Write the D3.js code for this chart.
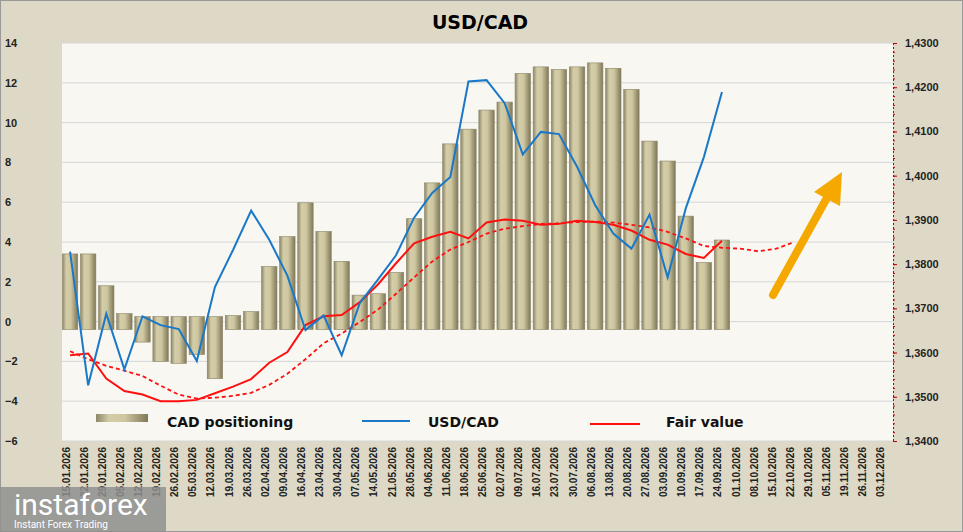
<!DOCTYPE html>
<html><head><meta charset="utf-8">
<script src="https://cdn.jsdelivr.net/npm/d3@7"></script>
<style>body{margin:0;background:#ddd9c6;font-family:Verdana,"DejaVu Sans",sans-serif}</style>
</head><body><div id="chart-area"></div>
<script>
var dates = ["15.01.2026","22.01.2026","29.01.2026","05.02.2026","12.02.2026","19.02.2026","26.02.2026","05.03.2026","12.03.2026","19.03.2026","26.03.2026","02.04.2026","09.04.2026","16.04.2026","23.04.2026","30.04.2026","07.05.2026","14.05.2026","21.05.2026","28.05.2026","04.06.2026","11.06.2026","18.06.2026","25.06.2026","02.07.2026","09.07.2026","16.07.2026","23.07.2026","30.07.2026","06.08.2026","13.08.2026","20.08.2026","27.08.2026","03.09.2026","10.09.2026","17.09.2026","24.09.2026","01.10.2026","08.10.2026","15.10.2026","22.10.2026","29.10.2026","05.11.2026","19.11.2026","26.11.2026","03.12.2026"];
var cadPositioning = [3.4,3.4,1.8,0.4,-1.03,-2.0,-2.1,-1.65,-2.87,0.3,0.5,2.77,4.27,5.97,4.53,3.03,1.33,1.4,2.47,5.17,6.97,8.93,9.67,10.63,11.03,12.47,12.8,12.67,12.8,13.0,12.73,11.67,9.07,8.07,5.3,2.97,4.1];
var usdcad = [1.3828,1.3526,1.3688,1.3562,1.3682,1.3662,1.3653,1.3581,1.3748,1.3832,1.3921,1.3855,1.3774,1.3651,1.3684,1.3594,1.3712,1.3765,1.3820,1.3905,1.3961,1.3997,1.4213,1.4216,1.4164,1.4048,1.4099,1.4094,1.4020,1.3933,1.3869,1.3835,1.3912,1.3770,1.3926,1.4042,1.4189];
var fairValue = [1.3594,1.3598,1.3541,1.3513,1.3505,1.3490,1.3490,1.3493,1.3508,1.3523,1.3540,1.3577,1.3601,1.3662,1.3682,1.3685,1.3714,1.3754,1.3802,1.3847,1.3862,1.3873,1.3858,1.3894,1.3901,1.3898,1.3889,1.3891,1.3898,1.3895,1.3889,1.3876,1.3855,1.3844,1.3823,1.3814,1.3853];
var fairTrend = [1.3603,1.3585,1.3570,1.3559,1.3547,1.3525,1.3505,1.3496,1.3498,1.3502,1.3509,1.3527,1.3552,1.3585,1.3621,1.3643,1.3669,1.3697,1.3733,1.3770,1.3806,1.3833,1.3850,1.3869,1.3880,1.3886,1.3891,1.3892,1.3895,1.3896,1.3894,1.3889,1.3883,1.3873,1.3858,1.3841,1.3837,1.3835,1.3829,1.3835,1.3850];
var leftTicks = [14,12,10,8,6,4,2,0,-2,-4,-6];
var rightTicks = [1.43,1.42,1.41,1.40,1.39,1.38,1.37,1.36,1.35,1.34];

var W = 963, H = 532, L = 62, R = 893, T = 43, B = 441;
var svg = d3.select("#chart-area").append("svg").attr("width", W).attr("height", H);
svg.append("rect").attr("x",0.5).attr("y",0.5).attr("width",W-1).attr("height",H-1).attr("fill","#ddd9c6").attr("stroke","#999");
svg.append("rect").attr("x",L).attr("y",T).attr("width",R-L).attr("height",B-T).attr("fill","#f8f7f2");
svg.append("text").attr("x",480).attr("y",29).attr("text-anchor","middle").attr("font-size",19).attr("font-weight","bold").text("USD/CAD");

var x = d3.scaleBand().domain(dates).range([L,R]).paddingInner(0.15).paddingOuter(0.02);
var y = d3.scaleLinear().domain([-6,14]).range([B,T]);
var yR = d3.scaleLinear().domain([1.34,1.43]).range([B,T]);
var cx = function(i){ return x(dates[i]) + x.bandwidth()/2; };

// grid
svg.selectAll(".grid").data(leftTicks).enter().append("line")
  .attr("x1",L).attr("x2",R).attr("y1",d=>y(d)).attr("y2",d=>y(d)).attr("stroke","#d6d6d6");

// axes
var la = svg.append("g").attr("transform","translate("+L+",0)")
  .call(d3.axisLeft(y).tickValues(leftTicks).tickSize(0).tickPadding(14));
la.select(".domain").remove();
la.selectAll("text").attr("font-size",11).attr("font-weight","bold").attr("fill","#222").attr("text-anchor","start").attr("x",-57);
var ra = svg.append("g").attr("transform","translate("+R+",0)")
  .call(d3.axisRight(yR).tickValues(rightTicks).tickSize(4).tickFormat(d=>d3.format(".4f")(d).replace(".",",")));
ra.select(".domain").attr("stroke","#c00000").attr("stroke-dasharray","2,2");
ra.selectAll("line").attr("stroke","#c00000");
ra.selectAll("text").attr("font-size",11).attr("font-weight","bold").attr("fill","#222").attr("x",12);
var ra2 = svg.append("g").attr("transform","translate("+R+",0)")
  .call(d3.axisRight(yR).ticks(45).tickSize(2).tickFormat(""));
ra2.select(".domain").remove();
ra2.selectAll("line").attr("stroke","#c00000");

var xa = svg.append("g").attr("transform","translate(0,"+B+")").call(d3.axisBottom(x).tickSize(0));
xa.select(".domain").remove();
xa.selectAll("text").attr("font-size",10).attr("font-weight","bold").attr("fill","#222")
  .attr("transform","rotate(-90)").attr("text-anchor","end").attr("x",-6).attr("y",-4).attr("dy","0.35em");

// bars
var grad = svg.append("defs").append("linearGradient").attr("id","bg");
[["0%","#8d8668"],["25%","#d4cda8"],["55%","#cfc7a0"],["100%","#7f7858"]].forEach(s=>grad.append("stop").attr("offset",s[0]).attr("stop-color",s[1]));
svg.selectAll(".bar").data(cadPositioning).enter().append("rect")
  .attr("x",(d,i)=>x(dates[i]))
  .attr("width",x.bandwidth())
  .attr("y",d=>d>0 ? y(d) : y(0.25))
  .attr("height",d=>d>0 ? y(-0.4)-y(d) : y(d)-y(0.25))
  .attr("fill","url(#bg)").attr("stroke","#8a8466").attr("stroke-width",0.6);

var line = d3.line().x((d,i)=>cx(i)).y(d=>yR(d));
svg.append("path").attr("d",line(fairTrend)).attr("fill","none").attr("stroke","#ff1010").attr("stroke-width",1.8).attr("stroke-dasharray","4,3");
svg.append("path").attr("d",line(fairValue)).attr("fill","none").attr("stroke","#ff1010").attr("stroke-width",2);
svg.append("path").attr("d",line(usdcad)).attr("fill","none").attr("stroke","#1a78c8").attr("stroke-width",2);

// arrow
svg.append("line").attr("x1",773).attr("y1",295).attr("x2",828).attr("y2",196).attr("stroke","#f5a800").attr("stroke-width",8).attr("stroke-linecap","round");
svg.append("polygon").attr("points","842,172 840,206 814,192").attr("fill","#f5a800");

// legend
var lg = svg.append("g").attr("font-size",14).attr("font-weight","bold").attr("fill","#111");
lg.append("rect").attr("x",96).attr("y",414).attr("width",52).attr("height",8).attr("fill","url(#bg)");
lg.append("text").attr("x",167).attr("y",427).text("CAD positioning");
lg.append("line").attr("x1",362).attr("x2",410).attr("y1",421).attr("y2",421).attr("stroke","#1a78c8").attr("stroke-width",2);
lg.append("text").attr("x",428).attr("y",427).text("USD/CAD");
lg.append("line").attr("x1",590).attr("x2",640).attr("y1",424).attr("y2",424).attr("stroke","#ff1010").attr("stroke-width",2);
lg.append("text").attr("x",666).attr("y",427).text("Fair value");

// logo
var lo = svg.append("g");
lo.append("rect").attr("x",0).attr("y",487).attr("width",166).attr("height",45).attr("fill","#8f8f8f").attr("opacity",0.85);
lo.append("text").attr("x",14).attr("y",515).attr("font-family","Roboto,sans-serif").attr("font-size",30).attr("fill","#fff").text("instaforex");
lo.append("text").attr("x",14).attr("y",528).attr("font-family","Roboto,sans-serif").attr("font-size",10).attr("fill","#fff").text("Instant Forex Trading");
</script></body></html>
